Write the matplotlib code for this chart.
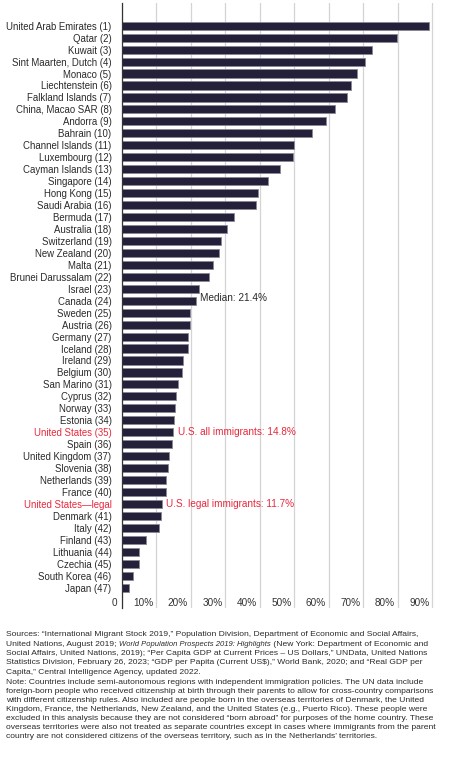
import matplotlib
matplotlib.use("Agg")
import matplotlib.pyplot as plt
import matplotlib.transforms as mtransforms

plt.rcParams['font.family'] = ['Liberation Sans', 'DejaVu Sans']

# Foreign-born share of population, percent
countries = [
    "United Arab Emirates (1)", "Qatar (2)", "Kuwait (3)", "Sint Maarten, Dutch (4)",
    "Monaco (5)", "Liechtenstein (6)", "Falkland Islands (7)", "China, Macao SAR (8)",
    "Andorra (9)", "Bahrain (10)", "Channel Islands (11)", "Luxembourg (12)",
    "Cayman Islands (13)", "Singapore (14)", "Hong Kong (15)", "Saudi Arabia (16)",
    "Bermuda (17)", "Australia (18)", "Switzerland (19)", "New Zealand (20)",
    "Malta (21)", "Brunei Darussalam (22)", "Israel (23)", "Canada (24)",
    "Sweden (25)", "Austria (26)", "Germany (27)", "Iceland (28)", "Ireland (29)",
    "Belgium (30)", "San Marino (31)", "Cyprus (32)", "Norway (33)", "Estonia (34)",
    "United States (35)", "Spain (36)", "United Kingdom (37)", "Slovenia (38)",
    "Netherlands (39)", "France (40)", "United States\u2014legal", "Denmark (41)",
    "Italy (42)", "Finland (43)", "Lithuania (44)", "Czechia (45)",
    "South Korea (46)", "Japan (47)",
]
shares = [
    89.0, 79.7, 72.5, 70.5, 68.2, 66.4, 65.3, 61.8, 59.1, 55.1, 50.0, 49.5,
    45.8, 42.4, 39.3, 38.8, 32.5, 30.3, 28.6, 28.2, 26.3, 25.2, 22.3, 21.4,
    19.8, 19.8, 19.1, 19.1, 17.8, 17.3, 16.1, 15.7, 15.5, 15.2, 14.8, 14.6,
    13.7, 13.2, 12.9, 12.9, 11.7, 11.4, 10.7, 6.9, 5.0, 5.0, 3.3, 2.1,
]
highlight = ["United States (35)", "United States\u2014legal"]
xticks = [0, 10, 20, 30, 40, 50, 60, 70, 80, 90]
xtick_labels = ["0", "10%", "20%", "30%", "40%", "50%", "60%", "70%", "80%", "90%"]

footnote = [
    "Sources: \u201cInternational Migrant Stock 2019,\u201d Population Division, Department of Economic and Social Affairs,",
    "United Nations, August 2019; ",
    "Social Affairs, United Nations, 2019); \u201cPer Capita GDP at Current Prices \u2013 US Dollars,\u201d UNData, United Nations",
    "Statistics Division, February 26, 2023; \u201cGDP per Papita (Current US$),\u201d World Bank, 2020; and \u201cReal GDP per",
    "Capita,\u201d Central Intelligence Agency, updated 2022.",
    "Note: Countries include semi-autonomous regions with independent immigration policies. The UN data include",
    "foreign-born people who received citizenship at birth through their parents to allow for cross-country comparisons",
    "with different citizenship rules. Also included are people born in the overseas territories of Denmark, the United",
    "Kingdom, France, the Netherlands, New Zealand, and the United States (e.g., Puerto Rico). These people were",
    "excluded in this analysis because they are not considered \u201cborn abroad\u201d for purposes of the home country. These",
    "overseas territories were also not treated as separate countries except in cases where immigrants from the parent",
    "country are not considered citizens of the overseas territory, such as in the Netherlands\u2019 territories.",
]
italic_part = "World Population Prospects 2019: Highlights"
after_italic = " (New York: Department of Economic and"

red = "#e8283c"
bar_color = "#24203a"
text_color = "#2a2a2a"

W, H = 457, 765
fig = plt.figure(figsize=(W / 100, H / 100), dpi=100)
ax_left, ax_right, ax_top, ax_bottom = 122, 440, 3, 608
ax = fig.add_axes([ax_left / W, 1 - ax_bottom / H, (ax_right - ax_left) / W, (ax_bottom - ax_top) / H])

n = len(countries)
ypos = list(range(n))
ax.barh(ypos, shares, height=0.68, color=bar_color, edgecolor="#8a8796", linewidth=0.6, zorder=3)

ax.set_xlim(0, 92.2)
ax.set_ylim(n - 1 + 1.7, -1.9)
ax.set_xticks(xticks)
ax.set_xticklabels([])
ax.tick_params(axis="x", length=0)
ax.grid(axis="x", color="#d4d4d4", linewidth=0.9, zorder=0)
ax.set_yticks(ypos)
ax.set_yticklabels(countries, fontsize=6.95, color=text_color)
ax.tick_params(axis="y", length=0, pad=7.5)
for lbl in ax.get_yticklabels():
    if lbl.get_text() in highlight:
        lbl.set_color(red)
for side in ["top", "right", "bottom"]:
    ax.spines[side].set_visible(False)
ax.spines["left"].set_color("#333333")
ax.spines["left"].set_linewidth(0.9)
ax.spines["left"].set_zorder(4)

# x tick labels sit just left of each grid line
offset = mtransforms.ScaledTranslation(-3 / 100, 0, fig.dpi_scale_trans)
for xv, lab in zip(xticks, xtick_labels):
    dx = -2 if xv == 0 else 0
    ax.text(xv, n - 1 + 1.3, lab, ha="right", va="center", fontsize=7.2,
            color="#333333",
            transform=ax.transData + offset + mtransforms.ScaledTranslation(dx / 100, 0, fig.dpi_scale_trans))

ax.text(22.6, 22.8, "Median: 21.4%", fontsize=7.2, va="center", color=text_color)
ax.text(16.1, 34, "U.S. all immigrants: 14.8%", fontsize=7.2, va="center", color=red)
ax.text(12.7, 40, "U.S. legal immigrants: 11.7%", fontsize=7.2, va="center", color=red)

# footnote lines
fs = 6.1
y0 = 635
step = 9.1
for i, line in enumerate(footnote):
    y = 1 - (y0 + i * step + (1.5 if i >= 4 else 0)) / H
    t = fig.text(6 / W, y, line, fontsize=fs, va="center", color=text_color)
    if i == 1:
        it = ax.annotate(italic_part, xy=(1, 0), xycoords=t, fontsize=5.5, style="italic",
                         va="bottom", ha="left", color=text_color, annotation_clip=False)
        ax.annotate(after_italic, xy=(1, 0), xycoords=it, fontsize=fs,
                    va="bottom", ha="left", color=text_color, annotation_clip=False)

fig.savefig("out.png", dpi=100)
